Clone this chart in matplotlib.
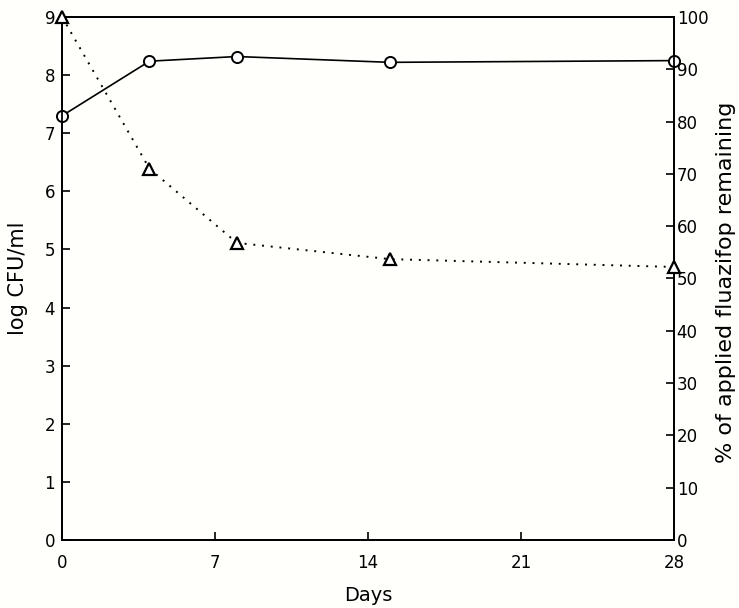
import matplotlib
matplotlib.use("Agg")
import matplotlib.pyplot as plt

# Viable counts of the degrading culture and herbicide left in the medium
days = [0, 4, 8, 15, 28]
log_cfu = [7.3, 8.24, 8.32, 8.22, 8.25]
pct_remaining = [100, 71, 56.8, 53.7, 52.2]

x_ticks = [0, 7, 14, 21, 28]
left_ticks = list(range(0, 10))
right_ticks = list(range(0, 101, 10))

plt.rcParams["font.family"] = ["DejaVu Sans"]

fig = plt.figure(figsize=(7.39, 6.08), dpi=100, facecolor="#fffffb")
ax = fig.add_axes([0.084, 0.112, 0.828, 0.86])
ax.set_facecolor("#fffffb")

ax.plot(days, log_cfu, color="black", lw=1.2, marker="o", ms=8,
        mfc="white", mec="black", mew=1.4, clip_on=False, zorder=3)

ax.set_xlim(0, 28)
ax.set_ylim(0, 9)
ax.set_xticks(x_ticks)
ax.set_yticks(left_ticks)
ax.tick_params(direction="in", length=6, width=1.2, labelsize=12)
ax.tick_params(axis="x", pad=10)
ax.tick_params(axis="y", pad=5)
ax.set_xlabel("Days", fontsize=14, labelpad=10)
ax.set_ylabel("log CFU/ml", fontsize=15, labelpad=12)

ax2 = ax.twinx()
ax2.plot(days, pct_remaining, color="black", lw=1.4, ls=(0, (1, 3.5)),
         marker="^", ms=8, mfc="white", mec="black", mew=1.6,
         clip_on=False, zorder=3)
ax2.set_ylim(0, 100)
ax2.set_yticks(right_ticks)
ax2.tick_params(direction="in", length=6, width=1.2, labelsize=12, pad=2)

# right-hand label sits close to the figure edge
fig.text(0.983, 0.536, "% of applied fluazifop remaining", rotation=90,
         ha="center", va="center", fontsize=16)

for a in (ax, ax2):
    for s in a.spines.values():
        s.set_linewidth(1.3)

fig.savefig("out.png", dpi=100, facecolor=fig.get_facecolor())
